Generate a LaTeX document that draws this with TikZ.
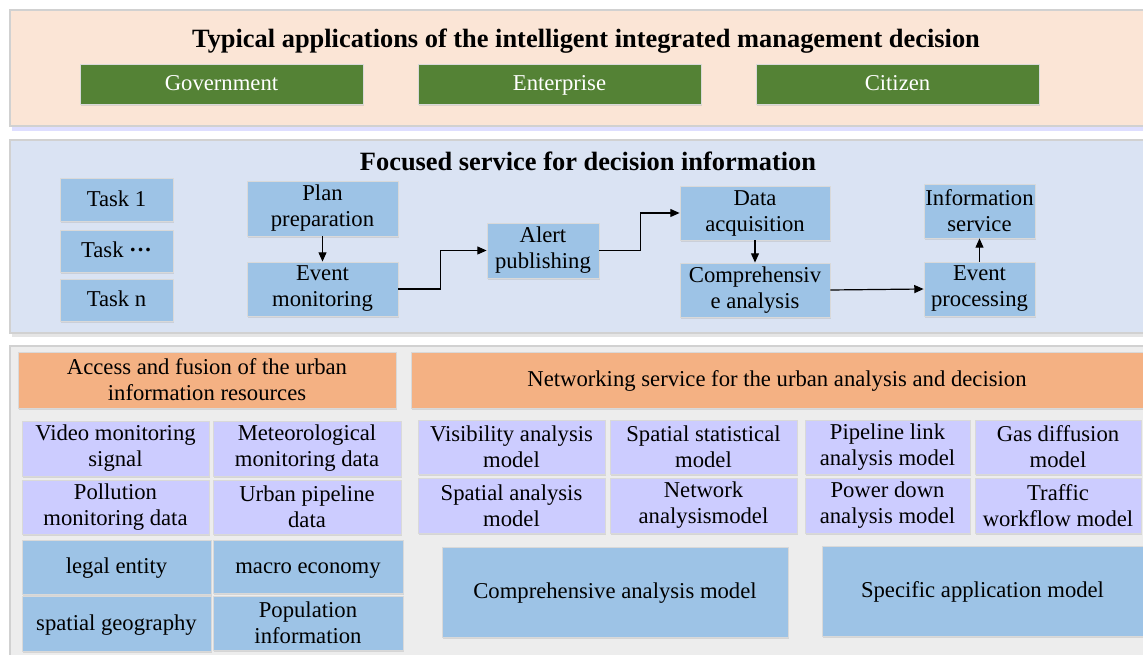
\documentclass[tikz,border=0pt]{standalone}
\usepackage{fontspec}
\setmainfont{Liberation Serif}
\usetikzlibrary{arrows.meta,shadows}

\definecolor{peach}{HTML}{FBE5D6}
\definecolor{appgreen}{HTML}{548235}
\definecolor{paleblue}{HTML}{DAE3F3}
\definecolor{taskblue}{HTML}{9DC3E6}
\definecolor{panelgray}{HTML}{EDEDED}
\definecolor{headorange}{HTML}{F4B183}
\definecolor{lavender}{HTML}{CCCCFF}

\begin{document}
\begin{tikzpicture}[x=0.75pt,y=-0.75pt,
  panel/.style={draw=black!18, line width=0.8pt},
  cell/.style={draw=black!15, line width=0.6pt, inner sep=1pt, align=center,
    font=\fontsize{17}{19.5}\selectfont,
    drop shadow={shadow xshift=0.8pt, shadow yshift=-1.2pt, fill=black!30, opacity=0.4}},
  oneline/.style={text height=13pt, text depth=3pt},
  app/.style={cell, oneline, fill=appgreen, text=white},
  task/.style={cell, fill=taskblue},
  head/.style={cell, fill=headorange},
  model/.style={cell, fill=lavender},
  title/.style={font=\fontsize{19.8}{22}\selectfont\bfseries},
  flow/.style={-{Triangle[length=7pt,width=6pt]}, line width=0.9pt}]

% ---------- Parameter (Pixelraster) ----------
\def\px{0.75pt}
\def\xR{1146}

\useasboundingbox (0,0) rectangle (1143,655);
\fill[white] (0,0) rectangle (1143,655);

% ===================
% oben: typical applications
% ===================
\fill[blue!25, opacity=0.5] (12,127) rectangle (\xR,131);
\draw[panel, fill=peach] (10,10) rectangle (\xR,126);
\node[title] (apptitle) at (586,41) {Typical applications of the intelligent integrated management decision};

\node[app, minimum width=283*\px, minimum height=40*\px] (gov) at (221.5,84) {Government};
\node[app, minimum width=283*\px, minimum height=40*\px] (ent) at (559.5,84) {Enterprise};
\node[app, minimum width=283*\px, minimum height=40*\px] (cit) at (897.5,84) {Citizen};

% ===================
% Mitte: focused service
% ===================
\fill[black!10] (12,334) rectangle (\xR,337);
\draw[panel, fill=paleblue] (10,140) rectangle (\xR,333);
\node[title] (servtitle) at (588,161) {Focused service for decision information};

\node[task, oneline, minimum width=113*\px, minimum height=43*\px] (task1) at (116.5,199.5) {Task 1};
\node[task, oneline, minimum width=113*\px, minimum height=42*\px] (taskd) at (116.5,251) {Task \textbf{···}};
\node[task, oneline, minimum width=113*\px, minimum height=42*\px] (taskn) at (116.5,300) {Task n};

\node[task, minimum width=151*\px, minimum height=55*\px] (plan) at (322.5,208.5) {Plan\\preparation};
\node[task, minimum width=151*\px, minimum height=54*\px] (evmon) at (322.5,289) {Event\\monitoring};
\node[task, minimum width=112*\px, minimum height=55*\px] (alert) at (543,250.5) {Alert\\publishing};
\node[task, minimum width=150*\px, minimum height=54*\px] (dacq) at (755,213) {Data\\acquisition};
\node[task, minimum width=150*\px, minimum height=54*\px] (comp) at (755,290) {Comprehensiv\\e analysis};
\node[task, minimum width=111*\px, minimum height=54*\px] (info) at (979.5,211) {Information\\service};
\node[task, minimum width=111*\px, minimum height=54*\px] (evproc) at (979.5,289) {Event\\processing};

\draw[flow] (plan) -- (evmon);
\draw[flow] (evmon.east) -- ++(42,0) |- (alert.west);
\draw[flow] (alert.east) -- ++(41,0) |- (dacq.west);
\draw[flow] (dacq) -- (comp);
\draw[flow] (comp.east) -- (evproc.west);
\draw[flow] (evproc) -- (info);

% ===================
% unten: access, fusion and networking service
% ===================
\draw[panel, fill=panelgray] (10,346) rectangle (\xR,660);

\node[head, minimum width=378*\px, minimum height=56*\px] (access) at (207,380) {Access and fusion of the urban\\information resources};
\node[head, oneline, minimum width=732*\px, minimum height=56*\px] (network) at (777,380) {Networking service for the urban analysis and decision};

% linke Seite
\node[model, minimum width=187*\px, minimum height=55*\px] (video) at (115.5,448.5) {Video monitoring\\signal};
\node[model, minimum width=188*\px, minimum height=55*\px] (meteo) at (307,448.5) {Meteorological\\monitoring data};
\node[model, minimum width=187*\px, minimum height=54*\px] (pollu) at (115.5,507) {Pollution\\monitoring data};
\node[model, minimum width=188*\px, minimum height=54*\px] (pipe) at (307,507) {Urban pipeline\\data};

\node[task, oneline, minimum width=189*\px, minimum height=54*\px] (legal) at (116.5,567) {legal entity};
\node[task, oneline, minimum width=190*\px, minimum height=53*\px] (macro) at (308,566.5) {macro economy};
\node[task, oneline, minimum width=189*\px, minimum height=55*\px] (geo) at (116.5,623.5) {spatial geography};
\node[task, minimum width=190*\px, minimum height=54*\px] (popu) at (308,623) {Population\\information};

% rechte Seite
\node[model, minimum width=187*\px, minimum height=54*\px] (visib) at (511.5,447) {Visibility analysis\\model};
\node[model, minimum width=187*\px, minimum height=54*\px] (spstat) at (703.5,447) {Spatial statistical\\model};
\node[model, minimum width=165*\px, minimum height=54*\px] (plink) at (887.5,447) {Pipeline link\\analysis model};
\node[model, minimum width=166*\px, minimum height=54*\px] (gas) at (1058,447) {Gas diffusion\\model};
\node[model, minimum width=187*\px, minimum height=55*\px] (spana) at (511.5,505.5) {Spatial analysis\\model};
\node[model, minimum width=187*\px, minimum height=55*\px] (netana) at (703.5,505.5) {Network\\analysismodel};
\node[model, minimum width=165*\px, minimum height=55*\px] (power) at (887.5,505.5) {Power down\\analysis model};
\node[model, minimum width=166*\px, minimum height=55*\px] (traffic) at (1058,505.5) {Traffic\\workflow model};

\node[task, oneline, minimum width=346*\px, minimum height=90*\px] (compmodel) at (615,592) {Comprehensive analysis model};
\node[task, oneline, minimum width=321*\px, minimum height=90*\px] (specmodel) at (982.5,591) {Specific application model};

\end{tikzpicture}
\end{document}
